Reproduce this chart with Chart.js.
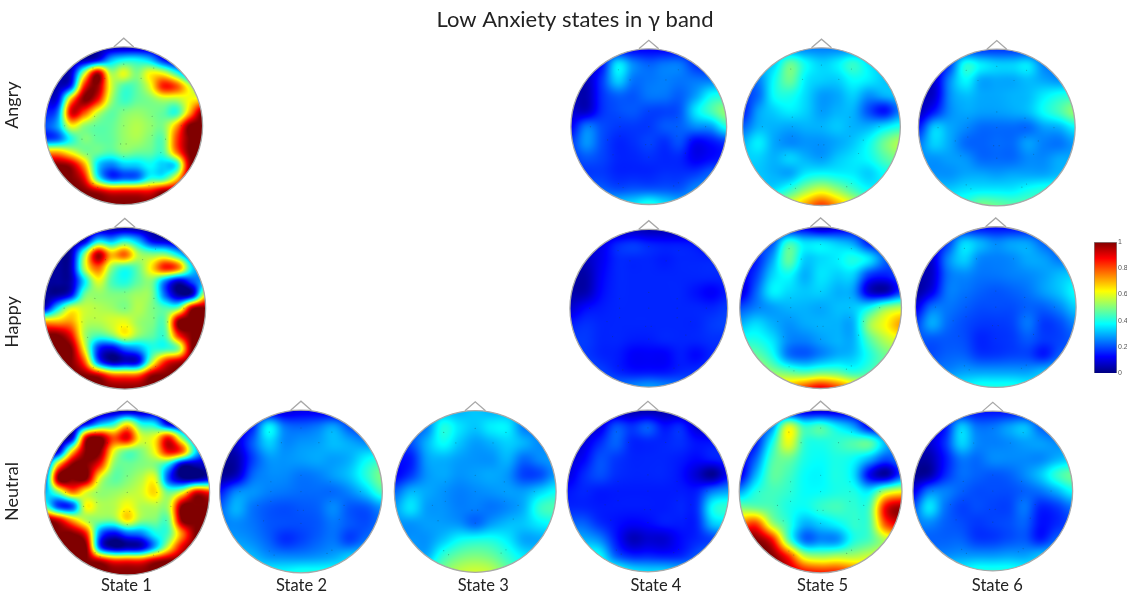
<!DOCTYPE html>
<html>
<head>
<meta charset="utf-8">
<title>Low Anxiety states in γ band</title>
<script src="https://cdn.jsdelivr.net/npm/chart.js@4"></script>
<style>
    html, body { margin: 0; padding: 0; background: #fff; }
    #wrap { position: relative; width: 1127px; height: 599px; overflow: hidden; }
    #mapChart { position: absolute; left: 0; top: 0; }
    #barChart { position: absolute; left: 1084px; top: 234px; }
</style>
</head>
<body>
<div id="wrap">
    <canvas id="mapChart" width="1127" height="599"></canvas>
    <canvas id="barChart" width="43" height="148"></canvas>
</div>
<script>
const titleText = 'Low Anxiety states in γ band';
const stateLabels = ['State 1', 'State 2', 'State 3', 'State 4', 'State 5', 'State 6'];
const rowLabels = ['Angry', 'Happy', 'Neutral'];
const barTicks = [0, 0.2, 0.4, 0.6, 0.8, 1];

// Power per head, percent of full scale, top row = front of the head.
const angry1 = [
    [5,5,5,5,5,5,5,5,5,5,5,5,5],
    [5,5,5,5,12,30,38,38,32,15,5,5,5],
    [5,5,8,55,95,55,60,50,62,60,42,20,10],
    [5,5,18,85,98,60,45,47,60,85,80,58,40],
    [10,12,70,100,88,55,43,47,50,55,55,62,65],
    [15,25,90,80,58,47,50,52,50,47,42,70,100],
    [20,30,62,52,47,47,52,55,52,50,70,100,100],
    [18,22,40,50,47,47,52,54,50,47,80,100,100],
    [70,70,60,50,48,45,50,48,47,45,75,100,100],
    [100,100,95,72,35,25,32,33,38,33,38,95,100],
    [100,100,100,88,42,20,22,24,40,42,65,100,100],
    [100,100,100,100,95,88,88,88,88,98,100,100,100],
    [100,100,100,100,100,100,100,100,100,100,100,100,100]
];
const happy1 = [
    [3,3,3,3,3,3,3,3,3,3,3,3,3],
    [3,3,3,8,35,30,40,30,12,8,5,5,5],
    [3,3,5,50,95,70,78,55,50,50,35,15,10],
    [3,3,6,55,78,52,42,48,65,85,75,35,25],
    [3,3,5,35,60,45,40,47,50,25,8,20,30],
    [3,3,12,47,52,50,50,53,50,22,3,8,62],
    [8,35,58,57,55,53,50,55,50,45,50,95,100],
    [70,70,72,57,55,58,60,53,50,48,100,100,100],
    [100,100,88,55,45,50,62,52,47,45,85,100,100],
    [100,100,100,62,18,10,22,28,40,42,52,100,100],
    [100,100,100,80,25,5,8,12,55,85,95,100,100],
    [100,100,100,100,95,80,78,80,98,100,100,100,100],
    [100,100,100,100,100,100,100,100,100,100,100,100,100]
];
const neutral1 = [
    [3,3,3,3,3,3,3,3,3,3,3,3,3],
    [3,3,3,12,30,40,62,40,35,10,5,5,5],
    [3,3,10,90,100,80,90,60,62,85,50,20,10],
    [3,10,65,100,100,62,48,50,62,88,78,35,15],
    [10,70,100,100,85,52,48,50,50,35,5,5,8],
    [20,100,100,100,60,47,50,55,60,20,3,3,10],
    [30,50,75,60,52,52,55,58,66,48,60,90,85],
    [45,18,20,62,55,55,62,55,55,55,100,100,100],
    [100,90,70,55,50,50,65,52,50,48,100,100,100],
    [100,100,100,85,25,12,22,25,38,45,75,100,100],
    [100,100,100,100,22,3,5,8,30,60,90,100,100],
    [100,100,100,100,95,85,85,85,95,100,100,100,100],
    [100,100,100,100,100,100,100,100,100,100,100,100,100]
];
const neutral2 = [
    [8,8,8,8,8,10,10,8,8,8,8],
    [8,8,15,36,24,22,24,28,20,16,14],
    [6,8,21,33,26,27,28,31,29,26,24],
    [3,4,18,27,27,28,29,28,30,37,41],
    [2,6,22,26,26,24,25,28,32,41,50],
    [14,25,27,25,24,23,23,23,26,33,44],
    [22,30,24,21,20,21,22,26,21,21,27],
    [25,26,24,21,20,20,21,24,21,20,24],
    [28,28,26,22,17,19,22,24,19,24,29],
    [33,33,31,27,26,26,27,29,33,35,35],
    [38,38,38,38,38,40,40,40,38,37,37]
];
const neutral3 = [
    [28,28,28,30,30,32,30,30,28,28,28],
    [22,22,25,40,35,32,36,36,25,25,25],
    [18,20,30,38,32,28,30,33,30,26,26],
    [14,15,28,30,28,27,27,30,23,26,28],
    [12,18,27,29,27,28,29,27,19,20,28],
    [22,30,29,27,25,26,27,28,28,33,38],
    [28,35,28,27,25,25,24,26,30,42,45],
    [27,27,28,28,27,23,28,31,32,36,38],
    [26,27,27,32,38,40,40,36,29,29,30],
    [30,30,30,42,48,50,48,42,36,34,32],
    [35,38,42,50,56,58,56,48,42,38,35]
];
const angry4 = [
    [12,12,12,12,12,12,12,12,12,12,12],
    [8,8,14,35,26,22,24,24,17,15,15],
    [6,6,18,33,24,24,25,24,24,24,24],
    [6,5,17,22,21,24,24,22,28,38,40],
    [8,7,17,20,21,19,19,21,35,44,52],
    [12,24,20,18,18,18,21,22,26,28,40],
    [18,27,20,16,17,19,17,20,12,14,18],
    [18,21,19,16,16,17,16,16,11,13,15],
    [18,18,18,16,16,16,17,17,18,22,24],
    [24,24,22,20,21,21,21,21,26,28,28],
    [33,33,33,33,35,40,35,31,31,31,31]
];
const happy4 = [
    [5,5,5,5,6,5,5,5,5,5,5],
    [8,8,10,16,18,16,15,15,14,11,11],
    [5,6,11,16,16,16,15,16,16,16,16],
    [4,4,12,16,16,16,16,16,16,16,16],
    [4,5,13,16,16,16,16,16,14,12,15],
    [8,13,15,16,16,16,16,16,16,16,18],
    [15,17,16,16,16,16,16,16,16,18,19],
    [18,18,16,16,15,15,16,16,16,17,17],
    [19,18,16,15,12,12,12,15,13,16,18],
    [22,21,19,16,14,14,14,16,17,19,20],
    [24,24,24,24,26,28,26,24,22,22,22]
];
const neutral4 = [
    [4,4,4,4,4,4,4,4,4,4,4],
    [6,6,9,20,17,21,14,16,8,6,6],
    [6,9,16,22,16,16,16,17,14,14,14],
    [8,12,20,18,16,16,16,15,13,15,16],
    [9,16,20,17,16,16,16,14,8,2,13],
    [14,16,15,15,15,15,15,15,15,24,28],
    [16,16,15,15,15,15,15,16,17,38,42],
    [22,22,17,14,12,13,15,15,16,32,34],
    [32,30,26,15,6,8,8,13,16,19,22],
    [40,40,38,22,16,16,15,16,21,26,26],
    [42,42,42,42,36,34,34,32,30,28,28]
];
const angry5 = [
    [25,25,25,25,25,25,25,25,25,25,25],
    [28,30,33,47,38,33,36,42,35,30,28],
    [22,25,38,48,36,33,33,38,36,32,30],
    [18,23,38,40,34,28,29,33,27,30,32],
    [15,28,33,36,33,28,30,30,20,14,25],
    [22,30,30,29,30,30,32,30,30,35,40],
    [30,36,29,26,27,27,29,32,38,48,55],
    [33,33,30,33,30,28,32,35,38,45,50],
    [32,32,30,29,36,38,37,36,33,38,40],
    [35,35,35,42,52,58,52,44,38,38,38],
    [45,50,55,60,72,82,72,60,50,45,40]
];
const happy5 = [
    [8,8,8,10,10,5,8,10,10,10,10],
    [15,18,20,42,35,35,32,28,15,12,10],
    [12,15,28,47,33,34,36,40,35,22,18],
    [10,18,33,38,30,35,33,33,18,15,20],
    [8,22,36,34,32,33,30,28,8,5,18],
    [20,25,28,30,30,29,31,32,38,50,55],
    [30,34,30,27,29,30,30,30,52,62,72],
    [40,40,35,26,25,28,30,30,45,55,60],
    [50,48,40,25,22,26,30,32,40,48,50],
    [60,58,52,48,45,48,47,42,45,50,50],
    [70,70,70,72,82,90,82,70,60,55,50]
];
const neutral5 = [
    [8,8,8,8,8,8,8,8,8,8,8],
    [15,15,25,58,42,44,36,28,12,8,8],
    [12,15,38,60,42,40,42,45,46,30,20],
    [10,22,44,48,40,38,40,38,30,20,25],
    [10,30,46,44,38,37,40,35,12,4,20],
    [28,40,44,42,38,38,40,40,36,55,62],
    [50,48,45,40,38,42,44,42,45,88,98],
    [75,82,55,42,30,33,37,42,45,80,90],
    [100,100,88,48,24,26,27,40,45,55,60],
    [100,100,100,85,58,53,55,55,58,60,60],
    [100,100,100,95,88,85,85,80,70,60,60]
];
const angry6 = [
    [18,18,18,18,18,18,18,18,18,18,18],
    [10,10,19,40,36,33,33,35,25,23,23],
    [8,8,26,37,29,29,29,31,29,27,27],
    [6,8,26,31,29,29,30,31,36,40,42],
    [6,15,26,29,28,28,29,31,38,44,52],
    [15,32,29,26,23,23,23,23,28,30,37],
    [24,33,29,23,22,23,23,28,25,24,28],
    [27,27,28,27,23,23,23,26,26,29,29],
    [27,27,27,29,29,28,29,29,29,31,31],
    [33,33,33,35,36,36,36,39,41,41,41],
    [41,41,43,43,50,48,46,46,43,43,43]
];
const happy6 = [
    [13,13,13,13,13,13,13,13,13,13,13],
    [10,10,18,33,30,26,28,28,22,19,19],
    [8,8,25,33,26,25,26,29,28,24,24],
    [5,7,23,26,24,24,25,26,28,31,33],
    [3,10,24,24,22,21,22,24,28,32,38],
    [10,23,24,22,20,20,20,22,22,26,33],
    [18,29,23,20,18,18,19,24,18,20,26],
    [21,21,21,20,16,17,18,21,18,19,22],
    [20,20,22,22,18,18,19,19,15,22,24],
    [26,26,26,28,28,28,28,28,31,33,33],
    [37,37,37,37,40,40,40,38,36,35,35]
];
const neutral6 = [
    [14,14,14,14,14,14,14,14,14,14,14],
    [10,10,14,32,24,24,28,31,22,19,19],
    [8,8,17,33,26,25,26,28,28,26,26],
    [4,4,14,24,23,26,26,26,26,30,33],
    [2,4,16,23,22,21,22,26,32,42,48],
    [10,24,25,22,20,20,20,22,24,30,38],
    [20,35,24,19,20,19,19,24,16,18,24],
    [24,26,22,20,18,19,20,22,14,16,20],
    [22,22,22,22,18,18,20,21,15,22,24],
    [26,26,26,27,27,27,28,28,31,33,33],
    [37,37,37,37,40,40,40,38,36,35,35]
];

const headGrids = [angry1, angry4, angry5, angry6, happy1, happy4, happy5, happy6,
    neutral1, neutral2, neutral3, neutral4, neutral5, neutral6];
// where each head sits, in axis units (state, row), and how big it is in px
const headX = [0.991, 4.007, 4.999, 6.006, 0.997, 4.007, 4.994, 6.0, 1.011, 2.009, 3.01, 4.002, 4.994, 5.983];
const headY = [0.995, 1, 1, 1.005, 1.995, 1.995, 1.992, 1.989, 3.005, 3, 3, 2.997, 3, 2.997];
const headR = [79, 78, 79, 78.5, 81, 79, 81, 80.5, 82.5, 81.5, 81, 81, 81.5, 80];

// the labels are not quite under the heads in the reference
const stateTickPos = [1.006, 2.012, 3.056, 4.048, 5.005, 6.009];
const rowTickPos = [0.882, 2.071, 3];

// electrode dots, as fractions of the head radius
const electrodeU = [0,-.39,.38,-.24,.22,0,-.37,.36,-.75,-.37,0,.36,.73,-.37,.36,-.53,.53,-.04,.03,-.46,.47,0,-.39,-.33,.32,.38];
const electrodeV = [-.78,-.73,-.73,-.6,-.6,-.2,-.12,-.12,0,0,0,0,0,.12,.12,.17,.17,.23,.23,.36,.34,.39,.73,.78,.76,.72];

const pxPerState = 174.4;
const pxPerRow = 182.5;

function clamp01(t) {
    return Math.max(0, Math.min(1, t));
}

function jet(t) {
    return [
        clamp01(1.5 - Math.abs(4 * t - 3)),
        clamp01(1.5 - Math.abs(4 * t - 2)),
        clamp01(1.5 - Math.abs(4 * t - 1))
    ].map(c => Math.round(c * 255));
}

function cubic(a, b, c, d, t) {
    return b + 0.5 * t * (c - a + t * (2 * a - 5 * b + 4 * c - d + t * (3 * (b - c) + d - a)));
}

// Catmull-Rom lookup in one head's grid, u and v run from 0 to 1
function sampleGrid(grid, u, v) {
    const n = grid.length;
    const gx = u * (n - 1), gy = v * (n - 1);
    const ix = Math.min(n - 2, Math.floor(gx)), iy = Math.min(n - 2, Math.floor(gy));
    const fx = gx - ix, fy = gy - iy;
    const rows = [];
    for (let k = -1; k <= 2; k++) {
        const row = grid[Math.max(0, Math.min(n - 1, iy + k))];
        rows.push(cubic(
            row[Math.max(0, ix - 1)], row[ix], row[ix + 1], row[Math.min(n - 1, ix + 2)], fx
        ));
    }
    return cubic(rows[0], rows[1], rows[2], rows[3], fy) / 100;
}

const headMapPlugin = {
    id: 'headMap',
    beforeDatasetsDraw(chart) {
        const ctx = chart.ctx;
        chart.data.datasets.forEach((ds, i) => {
            if (!ds.grid) return;
            const pts = chart.getDatasetMeta(i).data;
            const first = pts[0], last = pts[pts.length - 1];
            const cx = (first.x + last.x) / 2, cy = (first.y + last.y) / 2;
            const r = (last.x - first.x) / 2;
            const size = Math.ceil(r * 2) + 2;
            const off = document.createElement('canvas');
            off.width = off.height = size;
            const offCtx = off.getContext('2d');
            const img = offCtx.createImageData(size, size);
            const ox = Math.floor(cx - size / 2), oy = Math.floor(cy - size / 2);
            for (let py = 0; py < size; py++) {
                for (let px = 0; px < size; px++) {
                    const dx = ox + px + 0.5 - cx, dy = oy + py + 0.5 - cy;
                    const dist = Math.sqrt(dx * dx + dy * dy);
                    if (dist > r + 0.5) continue;
                    const val = sampleGrid(ds.grid, clamp01((dx / r + 1) / 2), clamp01((dy / r + 1) / 2));
                    const rgb = jet(clamp01(val));
                    const at = (py * size + px) * 4;
                    img.data[at] = rgb[0];
                    img.data[at + 1] = rgb[1];
                    img.data[at + 2] = rgb[2];
                    img.data[at + 3] = Math.round(clamp01(r + 0.5 - dist) * 255);
                }
            }
            offCtx.putImageData(img, 0, 0);
            ctx.drawImage(off, ox, oy);

            // head outline and nose
            ctx.save();
            ctx.strokeStyle = '#a8a8a8';
            ctx.lineWidth = 1.3;
            ctx.beginPath();
            ctx.arc(cx, cy, r, 0, Math.PI * 2);
            ctx.stroke();
            ctx.beginPath();
            ctx.moveTo(cx - r * 0.127, cy - r * 1.0);
            ctx.lineTo(cx, cy - r * 1.11);
            ctx.lineTo(cx + r * 0.127, cy - r * 1.0);
            ctx.stroke();
            ctx.restore();
        });
    }
};

const datasets = headGrids.map((grid, h) => {
    const n = grid.length;
    const data = [];
    grid.forEach((row, j) => row.forEach((val, k) => {
        data.push({
            x: headX[h] + (2 * k / (n - 1) - 1) * headR[h] / pxPerState,
            y: headY[h] + (2 * j / (n - 1) - 1) * headR[h] / pxPerRow
        });
    }));
    return { data, grid, pointRadius: 0, showLine: false };
});

const electrodeDots = [];
headGrids.forEach((grid, h) => {
    electrodeU.forEach((u, e) => {
        electrodeDots.push({
            x: headX[h] + u * headR[h] / pxPerState,
            y: headY[h] + electrodeV[e] * headR[h] / pxPerRow
        });
    });
});
datasets.push({
    data: electrodeDots,
    pointRadius: 0.6,
    pointBorderWidth: 0,
    pointBackgroundColor: 'rgba(30,60,60,0.35)',
    showLine: false
});

new Chart(document.getElementById('mapChart'), {
    type: 'scatter',
    data: { datasets },
    plugins: [headMapPlugin],
    options: {
        responsive: false,
        animation: false,
        events: [],
        layout: { padding: 0 },
        plugins: {
            legend: { display: false },
            tooltip: { enabled: false },
            title: {
                display: true,
                text: titleText,
                fullSize: false,
                color: '#222',
                font: { family: 'Lato', size: 22, weight: 'normal', lineHeight: 1.1 },
                padding: { top: 8, bottom: 0 }
            }
        },
        scales: {
            x: {
                type: 'linear',
                min: 0.4352,
                max: 6.731,
                grid: { display: false, drawTicks: false },
                border: { display: false },
                afterBuildTicks: scale => { scale.ticks = stateTickPos.map(value => ({ value })); },
                afterFit: scale => { scale.height = 24; },
                ticks: {
                    autoSkip: false,
                    maxRotation: 0,
                    padding: 1,
                    color: '#222',
                    font: { family: 'Lato', size: 16.5 },
                    callback: (v, i) => stateLabels[i]
                }
            },
            y: {
                type: 'linear',
                reverse: true,
                min: 0.4822,
                max: 3.4575,
                grid: { display: false, drawTicks: false },
                border: { display: false },
                afterBuildTicks: scale => { scale.ticks = rowTickPos.map(value => ({ value })); },
                afterFit: scale => { scale.width = 27; },
                ticks: {
                    autoSkip: false,
                    minRotation: 90,
                    maxRotation: 90,
                    crossAlign: 'center',
                    padding: -15,
                    color: '#222',
                    font: { family: 'Lato', size: 18 },
                    callback: (v, i) => rowLabels[i]
                }
            }
        }
    }
});

function barGradient(context) {
    const area = context.chart.chartArea;
    if (!area) return '#000';
    const grad = context.chart.ctx.createLinearGradient(0, area.bottom, 0, area.top);
    for (let s = 0; s <= 8; s++) {
        grad.addColorStop(s / 8, 'rgb(' + jet(s / 8).join(',') + ')');
    }
    return grad;
}

new Chart(document.getElementById('barChart'), {
    type: 'bar',
    data: {
        labels: [''],
        datasets: [{
            data: [1],
            backgroundColor: barGradient,
            borderColor: '#8a8a8a',
            borderWidth: 1,
            barPercentage: 1,
            categoryPercentage: 1
        }]
    },
    options: {
        responsive: false,
        animation: false,
        events: [],
        layout: { padding: { left: 10, top: 8, bottom: 9, right: 0 } },
        plugins: { legend: { display: false }, tooltip: { enabled: false } },
        scales: {
            x: { display: false },
            y: {
                position: 'right',
                min: 0,
                max: 1,
                grid: { display: false, drawTicks: false },
                border: { display: false },
                afterBuildTicks: scale => { scale.ticks = barTicks.map(value => ({ value })); },
                afterFit: scale => { scale.width = 10; },
                ticks: {
                    padding: 1,
                    color: '#555',
                    font: { family: 'Liberation Sans', size: 7 },
                    callback: v => String(v)
                }
            }
        }
    }
});
</script>
</body>
</html>
